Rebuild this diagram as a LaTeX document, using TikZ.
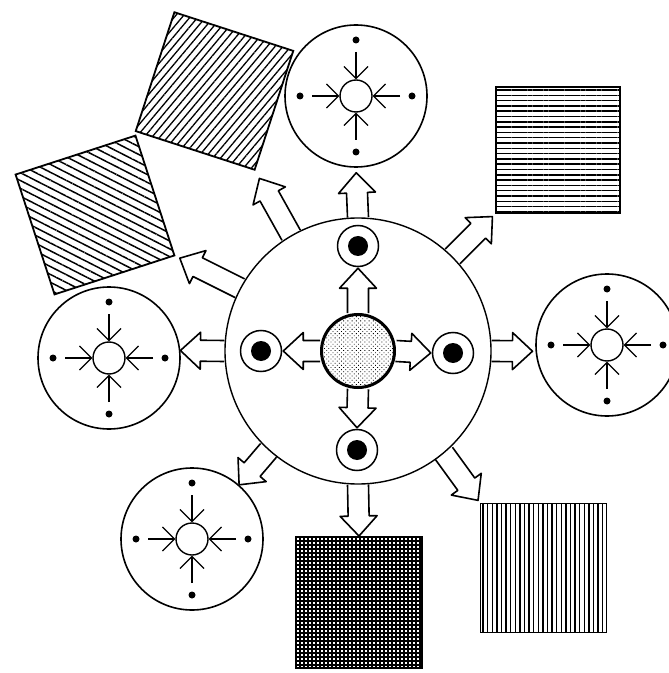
\documentclass[tikz,border=0pt]{standalone}
\usetikzlibrary{arrows.meta,calc,patterns.meta}

\newcommand{\blockarrow}[3]{%
  \coordinate (ba-s) at (#1);
  \coordinate (ba-t) at ($(#2)!#3!(ba-s)$);
  \coordinate (ba-h) at ($(ba-t)!10pt!(ba-s)$);
  \draw[blockarr] ($(ba-s)!5.25pt!90:(ba-t)$) -- ($(ba-h)!5.25pt!-90:(ba-s)$)
    -- ($(ba-h)!9.25pt!-90:(ba-s)$) -- (ba-t) -- ($(ba-h)!9.25pt!90:(ba-s)$)
    -- ($(ba-h)!5.25pt!90:(ba-s)$) -- ($(ba-s)!5.25pt!-90:(ba-t)$);
}
\newcommand{\sink}[2]{%
  \node[sinkcirc] (#1) at (#2) {};
  \node[sinkhub] (#1-hub) at (#1) {};
  \foreach \a in {0,90,180,270} {
    \fill[shift={(#1)}] (\a:28pt) circle (1.75pt);
    \draw[arrows=->,line width=0.6pt] ($(#1)+(\a:22pt)$) -- (#1-hub.\a);
  }
}

\begin{document}
\begin{tikzpicture}[x=0.5pt,y=-0.5pt,
  >={Straight Barb[length=6pt,width=12pt]},
  every node/.style={inner sep=0pt},
  sinkcirc/.style={circle,draw,line width=0.8pt,minimum size=71pt},
  sinkhub/.style={circle,draw,line width=0.7pt,minimum size=16pt},
  eye/.style={circle,draw,line width=0.75pt,minimum size=20.5pt,
    path picture={\fill (path picture bounding box.center) circle (5pt);}},
  blockarr/.style={line width=0.8pt,line join=round},
  tile/.style={rectangle,draw,line width=0.9pt}]
\useasboundingbox (0,0) rectangle (668,673);

\node[circle,draw,line width=0.7pt,minimum size=133pt] (big) at (358,351) {};
\node[circle,draw,line width=1.5pt,minimum size=36.5pt,
  pattern={Dots[angle=45,distance=1.5pt,radius=0.3pt]}] (core) at (358,351) {};
\node[eye] (eyeT) at (358,246) {};
\node[eye] (eyeL) at (261,351) {};
\node[eye] (eyeR) at (453,353) {};
\node[eye] (eyeB) at (357,450) {};

\sink{sinkT}{356,96}
\sink{sinkL}{109,358}
\sink{sinkR}{607,345}
\sink{sinkBL}{192,539}

\node[tile,minimum size=62.5pt,rotate=-18,
  pattern={Lines[angle=50,distance=3pt,line width=0.65pt]}] (sqA) at (214.5,91) {};
\node[tile,minimum size=63pt,rotate=18,
  pattern={Lines[angle=-27,distance=3.5pt,line width=0.75pt]}] (sqB) at (95,215) {};
\node[tile,minimum width=62pt,minimum height=63pt,
  pattern={Lines[angle=0,distance=2.65pt,line width=0.75pt]}] (sqC) at (558,150) {};
\node[tile,minimum width=63pt,minimum height=64.5pt,
  pattern={Lines[angle=90,distance=2.3pt,line width=0.7pt]}] (sqD) at (543.5,568) {};
\node[tile,minimum width=63pt,minimum height=65.5pt,
  pattern={Hatch[angle=0,distance=2pt,line width=1pt]}] (sqE) at (359,602.5) {};

\blockarrow{core.90}{eyeT.south}{0.5pt}
\blockarrow{core.180}{eyeL.east}{0.5pt}
\blockarrow{core.0}{eyeR.west}{0.5pt}
\blockarrow{core.270}{eyeB.north}{0.5pt}

\blockarrow{big.90}{sinkT.south}{2.5pt}
\blockarrow{big.180}{sinkL.6}{0pt}
\blockarrow{big.0}{sinkR.185}{1.5pt}
\blockarrow{big.270}{sqE.north}{0pt}
\blockarrow{big.45}{sqC.south west}{2pt}
\blockarrow{big.-50}{sqD.north west}{1.5pt}
\blockarrow{big.-132}{sinkBL.49}{0pt}
\blockarrow{big.120}{sqA.south east}{4.5pt}
\blockarrow{big.152}{sqB.south east}{2.5pt}
\end{tikzpicture}
\end{document}
